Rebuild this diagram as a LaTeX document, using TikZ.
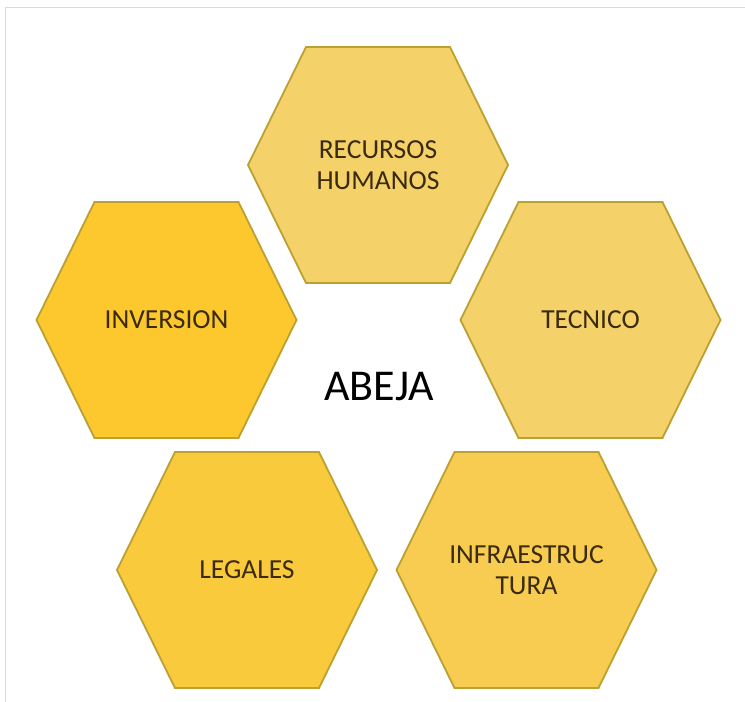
\documentclass[tikz,border=0pt]{standalone}
\usepackage{fontspec}
\setmainfont{Carlito}
\usepackage{xcolor}

\definecolor{hexedge}{HTML}{BBA032}
\definecolor{framegray}{HTML}{DADADA}
\definecolor{labeltext}{HTML}{3A2B0E}
\definecolor{fillpale}{HTML}{F5D169}
\definecolor{fillgold}{HTML}{FCC82E}
\definecolor{fillmid}{HTML}{F9CA3C}
\definecolor{fillsoft}{HTML}{F7CC50}

\begin{document}
\begin{tikzpicture}[
    x=1pt, y=-1pt,
    hexline/.style={draw=hexedge, line width=1.8pt, line join=miter},
    hexlabel/.style={font=\fontsize{27.5}{31}\selectfont, text=labeltext, align=center, inner sep=0pt}
]
\useasboundingbox (0,0) rectangle (745,702);
\draw[framegray, line width=1.2pt] (5.5,702) -- (5.5,7.5) -- (745,7.5);

% six-sided cells, centre given in pixels
\foreach \name/\cx/\cy/\col/\txt in {
    rrhh/378/165/fillpale/{RECURSOS\\HUMANOS},
    inversion/166.5/320/fillgold/{INVERSION},
    tecnico/590.5/320/fillpale/{TECNICO},
    legales/247/570/fillmid/{LEGALES},
    infra/526.5/570/fillsoft/{INFRAESTRUC\\TURA}} {
  \draw[hexline, fill=\col] (\cx-130,\cy) -- (\cx-72,\cy-118) -- (\cx+72,\cy-118)
      -- (\cx+130,\cy) -- (\cx+72,\cy+118) -- (\cx-72,\cy+118) -- cycle;
  \node[hexlabel] (\name) at (\cx,\cy) {\txt};
}

\node[font=\fontsize{44}{50}\selectfont, inner sep=0pt] (abeja) at (379,387) {ABEJA};
\end{tikzpicture}
\end{document}
